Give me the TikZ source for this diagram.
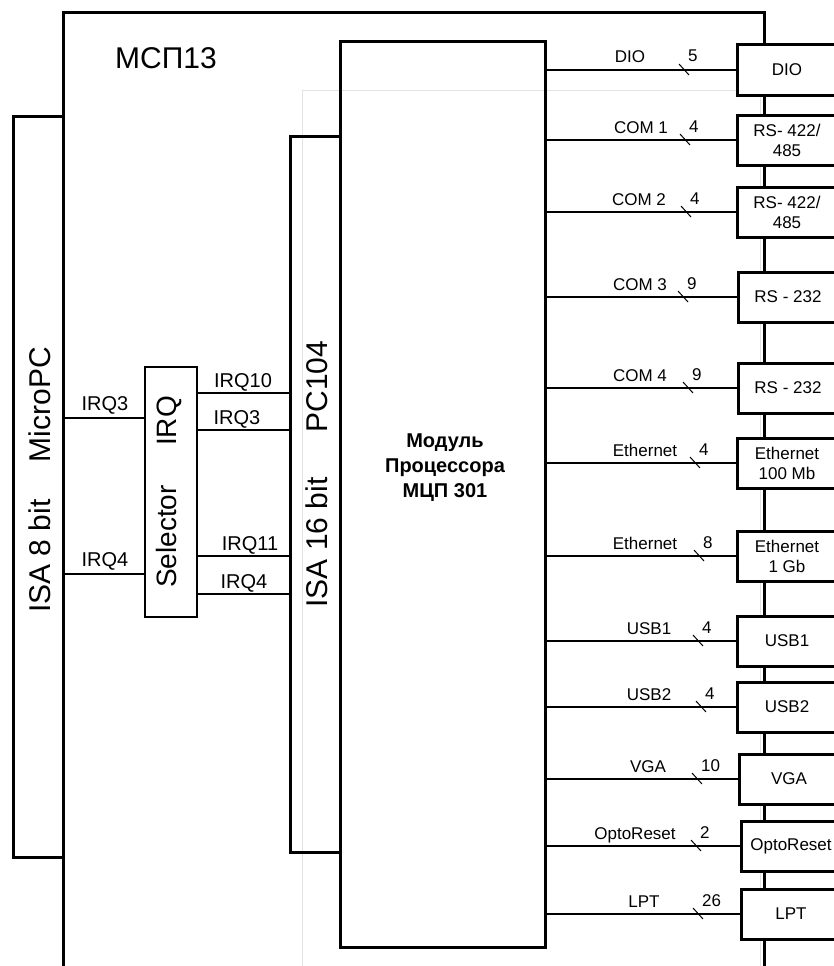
\documentclass[tikz,border=0pt]{standalone}
\usepackage{fontspec}
\setmainfont{Liberation Sans}
\tikzset{
  bus/.style={draw,line width=3pt,minimum width=50pt,outer sep=0pt,inner sep=0pt},
  wire/.style={line width=1.4pt},
  lbl/.style={font=\fontsize{17}{20}\selectfont,inner sep=0pt},
  irq/.style={font=\fontsize{20}{24}\selectfont,inner sep=0pt,anchor=base},
  big/.style={font=\fontsize{30}{36}\selectfont,inner sep=0pt},
  portbox/.style={draw,line width=3pt,fill=white,minimum width=100pt,minimum height=50pt,outer sep=0pt,inner sep=0pt,align=center,font=\fontsize{17}{20}\selectfont}
}
\begin{document}
\begin{tikzpicture}[x=1pt,y=-1pt]
\useasboundingbox (0,0) rectangle (834,966);
\clip (0,0) rectangle (834,966);
% board outline and faint frame behind the processor module
\draw[gray!22,line width=1pt] (302,980) |- (760,90) -- (760,980);
\draw[line width=3pt] (63,980) |- (764,13) -- (764,980);
\node[big,anchor=base west] (title) at (115,68) {МСП13};
% buses, selector and module
\node[bus,minimum height=741pt] (isa8) at (38,486.5) {};
\node[big,rotate=90] (isa8txt) at (40,480) {ISA 8 bit\hspace{1.25em}MicroPC};
\node[bus,minimum height=716pt] (pc) at (315,494) {};
\node[big,rotate=90] (pctxt) at (317,474) {ISA 16 bit\hspace{1.5em}PC104};
\node[bus,line width=2.6pt,minimum width=52pt,minimum height=250pt] (sel) at (171,492) {};
\node[font=\fontsize{28}{32}\selectfont,inner sep=0pt,rotate=90] (seltxt) at (169,492) {Selector\hspace{1.4em}IRQ};
\node[bus,minimum width=205pt,minimum height=905pt] (mod) at (442.5,494.5) {};
\node[font=\fontsize{20}{25}\selectfont\bfseries,align=center,inner sep=0pt] (modtxt) at (445,468) {Модуль\\Процессора\\МЦП 301};
% interrupt lines
\foreach \y/\t/\x in {418/IRQ3/105,574/IRQ4/105} {\draw[wire] (isa8.east |- 0,\y) -- (sel.west |- 0,\y); \node[irq] at (\x,\y-8) {\t};}
\foreach \y/\t/\x in {393/IRQ10/243,430/IRQ3/237,556/IRQ11/250,594/IRQ4/244} {\draw[wire] (sel.east |- 0,\y) -- (pc.west |- 0,\y); \node[irq] at (\x,\y-6) {\t};}
% peripheral ports
\foreach \y/\bt/\lb/\lx/\tx/\n/\bx [count=\i] in {70/DIO/DIO/630/684/5/787, 140/{RS- 422/\\485}/COM 1/641/685/4/787, 212/{RS- 422/\\485}/COM 2/639/686/4/787, 297/RS - 232/COM 3/640/683/9/788, 388/RS - 232/COM 4/640/688/9/788, 463/{Ethernet\\100 Mb}/Ethernet/645/695/4/787, 556/{Ethernet\\1 Gb}/Ethernet/645/699/8/787, 641/USB1/USB1/649/698/4/787, 707/USB2/USB2/649/701/4/787, 779/VGA/VGA/648/697/10/789, 846/OptoReset/OptoReset/635/696/2/791, 914/LPT/LPT/644/698/26/791} {
  \node[portbox] (p\i) at (\bx,\y) {\bt};
  \draw[wire] (mod.east |- p\i.west) -- (p\i.west);
  \node[lbl,anchor=base] at (\lx,\y-7) {\lb};
  \draw[line width=1pt] (\tx-5,\y-6) -- (\tx+5,\y+5);
  \node[lbl,anchor=base west] at (\tx+4,\y-8) {\n};
}
\end{tikzpicture}
\end{document}
